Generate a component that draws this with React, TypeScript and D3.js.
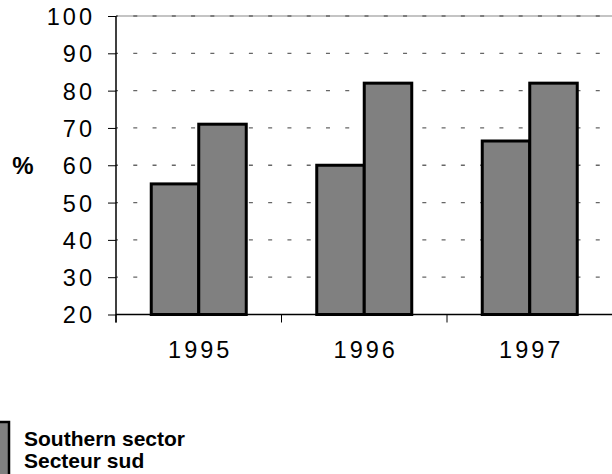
import * as d3 from "d3";
import { useRef, useEffect } from "react";

// values
const years = ["1995", "1996", "1997"];
const seriesA = [55, 60, 66.5];
const seriesB = [71, 82, 82];
const yTicks = [20, 30, 40, 50, 60, 70, 80, 90, 100];
const legendLines = ["Southern sector", "Secteur sud"];

const width = 612;
const height = 474;
const marginLeft = 116;
const marginTop = 16;
const plotBottom = 314.5;
const plotRight = 612.5;

const App = () => {
  const gx = useRef<SVGGElement>(null);
  const gy = useRef<SVGGElement>(null);

  const x = d3.scaleBand<string>()
    .domain(years)
    .range([marginLeft, plotRight])
    .padding(0);

  const inner = d3.scaleBand<string>()
    .domain(["a", "b"])
    .range([0, x.bandwidth()])
    .paddingInner(0)
    .paddingOuter(0.742);

  const y = d3.scaleLinear()
    .domain([20, 100])
    .range([plotBottom, marginTop]);

  useEffect(() => {
    if (gy.current) {
      const g = d3.select(gy.current);
      g.selectAll("*").remove();
      g.call(d3.axisLeft(y).tickValues(yTicks).tickSize(8).tickFormat(d3.format("d")));
      g.select(".domain").remove();
      g.selectAll(".tick line").attr("stroke", "#000").attr("stroke-width", 1);
      g.selectAll(".tick text")
        .attr("x", -21)
        .attr("dy", "0.36em")
        .attr("fill", "#000")
        .style("font-family", "Liberation Sans, Arial, sans-serif")
        .style("font-size", "23.5px")
        .style("letter-spacing", "3px");
    }
    if (gx.current) {
      const g = d3.select(gx.current);
      g.selectAll("*").remove();
      // ticks sit on category boundaries
      const bounds = years.map(d => x(d) as number).concat([plotRight]);
      g.selectAll("line.bt")
        .data(bounds)
        .join("line")
        .attr("class", "bt")
        .attr("x1", d => d)
        .attr("x2", d => d)
        .attr("y1", 0)
        .attr("y2", 8)
        .attr("stroke", "#000");
      g.selectAll("text")
        .data(years)
        .join("text")
        .attr("x", d => (x(d) as number) + x.bandwidth() / 2 + 1.5)
        .attr("y", 43)
        .attr("text-anchor", "middle")
        .attr("fill", "#000")
        .style("font-family", "Liberation Sans, Arial, sans-serif")
        .style("font-size", "23.5px")
        .style("letter-spacing", "3px")
        .text(d => d);
    }
  }, []);

  const gridTicks = yTicks.filter(t => t > 20);

  return (
    <svg width={width} height={height} style={{ position: "absolute", left: 0, top: 0, display: "block" }}>
      <rect x={0} y={0} width={width} height={height} fill="#fff" />
      {/* top border */}
      <line x1={marginLeft} x2={plotRight} y1={y(100)} y2={y(100)} stroke="#8a8a8a" strokeWidth={1.2} />
      {gridTicks.map(t => (
        <line
          key={t}
          x1={marginLeft}
          x2={plotRight}
          y1={y(t)}
          y2={y(t)}
          stroke="#666"
          strokeWidth={1.3}
          strokeDasharray="4 15.27"
          strokeDashoffset={2}
        />
      ))}
      {years.map((d, i) => (
        <g key={d} transform={`translate(${x(d)},0)`}>
          <rect
            x={inner("a")}
            y={y(seriesA[i])}
            width={inner.bandwidth()}
            height={y(20) - y(seriesA[i])}
            fill="#808080"
            stroke="#000"
            strokeWidth={3}
          />
          <rect
            x={inner("b")}
            y={y(seriesB[i])}
            width={inner.bandwidth()}
            height={y(20) - y(seriesB[i])}
            fill="#808080"
            stroke="#000"
            strokeWidth={3}
          />
        </g>
      ))}
      <line x1={marginLeft} x2={marginLeft} y1={marginTop} y2={plotBottom + 8} stroke="#000" strokeWidth={1.5} />
      <line x1={marginLeft} x2={plotRight} y1={plotBottom} y2={plotBottom} stroke="#000" strokeWidth={1.5} />
      <g ref={gy} transform={`translate(${marginLeft},0)`} />
      <g ref={gx} transform={`translate(0,${plotBottom})`} />
      <text
        x={23}
        y={174}
        textAnchor="middle"
        fontFamily="Liberation Sans, Arial, sans-serif"
        fontSize={24}
        fontWeight="bold"
      >
        %
      </text>
      {/* legend */}
      <rect x={-30} y={422} width={39} height={70} fill="#808080" stroke="#000" strokeWidth={2.5} />
      {legendLines.map((t, i) => (
        <text
          key={t}
          x={24}
          y={445.5 + i * 22.7}
          fontFamily="Liberation Sans, Arial, sans-serif"
          fontSize={21}
          fontWeight="bold"
        >
          {t}
        </text>
      ))}
    </svg>
  );
};

export default App;
